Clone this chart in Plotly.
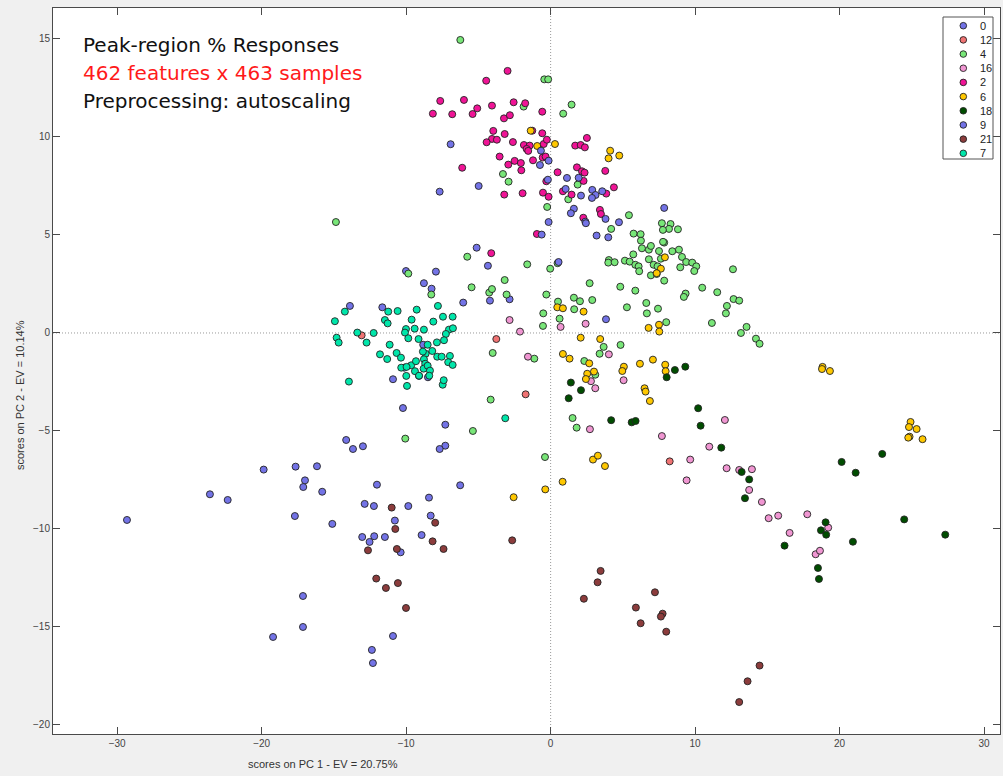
import plotly.graph_objects as go

# PCA scores (PC1, PC2) per sample class
class_labels = ["0", "12", "4", "16", "2", "6", "18", "9", "21", "7"]
class_colors = ["#7373e6", "#f07373", "#78e678", "#f096d2", "#f01496",
                "#ffc800", "#004d00", "#7373e6", "#8c3c3c", "#00e6aa"]

pc1_c0 = [-5.12, -4.34, -10.01, -7.94, -8.77, -8.24, -2.84, -4.20, -6.05, -13.89, -11.65,
          -8.82, -10.13, -9.11, -8.49, -10.91, -10.22, -7.29, -14.15, -13.68, -12.99, -7.29,
          -7.68, -12.02, -6.26, -8.42, -12.87, -12.23, -9.85, -15.11, -10.78, -8.30, -13.04,
          -12.21, -11.47, -12.53, -8.93, -10.38, -10.91, -12.37, -12.30, -17.14, -17.14,
          -19.21, -19.86, -17.65, -16.17, -17.00, -17.12, -15.81, -23.58, -22.35, -17.70, -29.32]
pc2_c0 = [4.35, 3.43, 3.16, 3.13, 2.54, 2.26, 1.72, 1.65, 1.55, 1.38, 1.31,
          -0.60, -1.77, -2.19, -2.26, -2.36, -3.83, -4.68, -5.46, -5.92, -5.78, -5.75,
          -5.92, -7.74, -7.77, -8.40, -8.72, -8.83, -8.83, -9.74, -9.57, -9.32, -10.41,
          -10.37, -10.41, -10.66, -10.31, -11.19, -15.46, -16.17, -16.84, -13.42, -15.00,
          -15.51, -6.97, -6.82, -6.80, -7.52, -7.86, -8.10, -8.23, -8.52, -9.34, -9.54]

pc1_c12 = [-13.08, -3.76, -1.73, 8.24]
pc2_c12 = [-0.12, -0.31, -3.13, -6.55]

pc1_c4 = [-6.25, -0.44, -0.17, -1.87, -3.30, -2.91, -0.24, -14.86, 1.45, 0.87, 1.87, 1.22,
          5.42, 7.70, 8.30, 8.19, 8.81, 7.77, 4.19, 5.74, 6.23, 6.25, 5.72, 6.32, 6.80, 6.94,
          7.50, 7.86, 7.78, 8.42, 8.88, 9.09, 9.38, 9.80, 10.08, 9.94, 7.63, 4.03, 3.99, 4.43,
          5.14, 5.47, 5.86, 6.09, 6.13, 6.80, 7.13, 7.40, 6.94, 7.34, 7.86, 8.97, 12.62, 0.48,
          -0.03, 2.70, 4.82, 5.86, 10.49, 11.53, 9.34, 9.22, 12.66, 13.05, 12.20, 12.13, 11.16,
          13.56, 13.17, 14.21, 14.46, -0.30, -0.51, -0.53, 0.51, 1.61, 2.03, 2.88, 1.63, 0.62,
          5.28, 6.62, 7.43, 6.66, 8.00, 3.67, 3.39, 4.84, 2.33, 3.09, 1.52, 1.80, -0.39, -5.77,
          -1.62, -9.85, -8.26, -5.47, -3.18, -4.25, -4.06, -3.05, -4.01, -1.13, -4.15, -5.38,
          -10.06]
pc2_c4 = [14.95, 12.94, 12.94, 11.55, 8.11, 7.72, 6.43, 5.66, 11.65, 11.19, 7.57, 6.82,
          6.01, 5.60, 5.56, 5.31, 5.29, 5.26, 5.31, 5.07, 5.04, 4.71, 4.01, 4.32, 4.25, 4.44,
          4.18, 4.61, 4.65, 4.17, 4.25, 3.88, 3.62, 3.59, 3.40, 3.16, 3.79, 3.72, 3.59, 3.61,
          3.69, 3.64, 3.48, 3.40, 3.15, 3.76, 3.48, 3.40, 2.94, 3.01, 2.67, 3.35, 3.25, 3.56,
          3.28, 2.54, 2.36, 2.16, 2.31, 2.08, 2.01, 1.84, 1.73, 1.65, 1.38, 1.00, 0.51,
          0.31, 0.00, -0.29, -0.55, 1.96, 1.00, 0.36, 1.60, 1.80, 1.62, 1.68, 1.21, 0.73,
          1.31, 1.53, 1.24, 1.00, 0.55, -0.71, -1.06, -0.61, -1.43, -2.13, -4.34, -4.83, -6.33, 3.89,
          3.50, 3.03, 1.96, 2.33, 2.70, 2.06, 2.24, 1.96, -1.02, -1.31, -3.40, -5.00,
          -5.39]

pc1_c16 = [0.69, 2.42, 4.03, 2.79, 3.09, 5.05, 2.72, 12.06, 7.70, 10.98, 9.66, 12.18, 13.05,
           13.93, 13.74, 14.62, 15.09, 15.75, 9.41, 17.76, 16.54, 19.21, 18.34, 18.64, -2.84,
           -2.12, -1.57]
pc2_c16 = [0.31, 0.47, -1.09, -2.46, -2.82, -2.41, -4.91, -4.44, -5.26, -5.80, -6.46, -6.90, -6.99,
           -6.95, -8.01, -8.62, -9.45, -9.32, -7.52, -9.25, -10.20, -9.93, -11.29, -11.11, 0.66,
           0.07, -1.21]

pc1_c2 = [-2.98, -4.46, -7.64, -6.00, -8.15, -6.81, -5.40, -5.08, -4.06, -2.56, -1.76, -0.58,
          -3.23, -2.82, -3.97, -3.18, -1.27, -0.58, -4.06, -3.72, -4.43, -2.61, -1.85, -1.45,
          -1.66, -1.55, -0.48, -0.26, -3.53, -2.49, -2.93, -2.06, -2.03, -1.22, -0.55, -0.35,
          0.48, -6.12, -0.30, -3.21, -1.94, -0.53, -0.14, 1.70, 2.08, 2.37, 2.51, 3.78, 1.82,
          2.17, 2.35, 2.28, 4.38, 3.85, 0.85, 1.45, 3.41, 3.48, 2.26, -0.95, -4.11]
pc2_c2 = [13.37, 12.87, 11.84, 11.89, 11.19, 11.16, 11.17, 11.46, 11.60, 11.77, 11.72, 11.29,
          10.95, 11.11, 10.31, 10.15, 10.32, 10.19, 9.90, 9.86, 9.73, 9.74, 9.59, 9.56,
          9.39, 9.29, 9.64, 9.86, 9.00, 8.78, 8.59, 8.67, 8.30, 8.81, 8.95, 9.00,
          8.20, 8.43, 7.74, 7.06, 7.13, 7.16, 6.95, 9.56, 9.59, 9.47, 9.95, 8.27, 8.45,
          8.25, 8.18, 7.76, 7.43, 7.11, 7.23, 7.06, 6.28, 6.07, 5.88, 5.05, 4.07]

pc1_c6 = [-1.38, -0.93, 0.30, 4.12, 4.01, 4.75, 7.91, 7.63, 7.34, 0.46, 0.85, 2.28, 6.78, 7.50,
          7.52, 2.08, 3.43, 0.85, 1.31, 2.67, 3.00, 2.53, 2.44, 5.07, 4.96, 6.18, 7.08, 7.93,
          7.96, 6.50, 6.57, 6.87, 2.93, 3.27, 3.76, 0.83, -0.37, -2.56, 18.82, 18.78, 19.33,
          24.91, 24.80, 25.33, 24.84, 24.75, 25.74]
pc2_c6 = [10.32, 9.54, 9.64, 9.30, 8.91, 9.05, 3.86, 3.28, 3.05, 1.31, 1.26, 1.09, 0.26, 0.42,
          0.07, -0.24, -0.31, -1.07, -1.31, -1.55, -1.97, -2.08, -2.35, -1.72, -1.94, -1.57, -1.36, -1.62,
          -1.95, -2.82, -2.99, -3.47, -6.46, -6.26, -6.79, -7.59, -7.98, -8.38, -1.73, -1.84, -1.94,
          -4.54, -4.80, -4.90, -5.29, -5.34, -5.42]

pc1_c18 = [1.40, 2.10, 1.25, 8.03, 8.60, 9.32, 10.21, 4.19, 5.61, 5.88, 10.38, 11.81, 13.22,
           13.74, 13.45, 22.95, 20.14, 21.11, 19.03, 18.71, 19.07, 16.19, 20.92, 24.47, 27.31,
           18.50, 18.57]
pc2_c18 = [-2.53, -2.92, -3.33, -2.26, -1.89, -1.72, -3.84, -4.45, -4.56, -4.49, -4.73, -5.85, -7.09,
           -7.47, -8.43, -6.17, -6.58, -7.13, -9.66, -10.07, -10.29, -10.85, -10.65, -9.51, -10.29,
           -11.99, -12.55]

pc1_c9 = [-6.92, -0.67, -0.14, -0.74, -4.98, -7.68, -0.19, -0.14, 1.94, 1.13, 1.04, 2.88, 3.11,
          2.86, 3.57, 2.10, 1.61, 1.40, 2.40, 2.44, 3.80, 4.73, 7.86, -0.62, 3.18, 3.99, 0.55, 3.83]
pc2_c9 = [9.63, 9.30, 8.79, 8.57, 7.50, 7.21, 7.82, 5.66, 7.92, 7.91, 7.35, 7.30, 7.04,
          6.89, 7.23, 7.01, 6.34, 6.11, 5.68, 5.60, 5.82, 5.65, 6.38, 5.02, 4.97, 4.88, 3.62, 0.70]

pc1_c21 = [-11.00, -10.75, -7.99, -12.64, -8.17, -7.41, -10.64, -2.66, -12.07, -11.40, -10.57,
           -10.01, 3.46, 3.25, 2.30, 7.22, 5.90, 6.23, 7.75, 7.63, 8.00, 14.46, 13.63, 13.05]
pc2_c21 = [-8.91, -10.00, -9.68, -11.09, -10.63, -11.02, -11.02, -10.58, -12.53, -13.01, -12.76,
           -14.03, -12.14, -12.72, -13.56, -13.23, -14.01, -14.81, -14.32, -14.47, -15.24, -16.97, -17.77, -18.83]

pc1_c7 = [-14.24, -14.93, -14.81, -14.67, -13.38, -12.74, -12.25, -11.24, -10.59, -11.47, -11.28,
          -9.27, -9.62, -7.80, -8.12, -7.45, -6.78, -10.01, -10.08, -9.41, -8.77, -7.04, -6.76,
          -7.25, -7.38, -7.87, -9.85, -9.14, -11.14, -11.81, -10.66, -10.36, -11.31, -8.51,
          -8.65, -8.84, -8.19, -7.85, -7.54, -6.97, -8.77, -8.68, -9.65, -9.32, -10.34, -9.97,
          -8.79, -8.51, -8.35, -8.40, -9.39, -9.11, -9.99, -9.94, -7.47, -7.40, -7.09, -6.78,
          -13.96, -3.14]
pc2_c7 = [1.09, 0.60, -0.24, -0.49, 0.02, -0.49, 0.00, 1.09, 1.12, 0.66, 0.49,
          1.19, 0.68, 1.38, 0.58, 0.83, 0.83, 0.20, 0.02, 0.22, 0.17, 0.17, 0.24,
          -0.05, -0.37, -0.48, -0.27, -0.31, -0.60, -1.09, -1.02, -1.26, -1.33, -0.60,
          -1.06, -0.95, -0.92, -1.21, -1.21, -1.17, -1.34, -1.57, -1.65, -1.44, -1.77, -1.73,
          -1.82, -1.67, -1.92, -2.18, -1.95, -2.18, -2.19, -2.70, -2.64, -2.41, -1.49, -1.63,
          -2.48, -4.35]

pc1_by_class = [pc1_c0, pc1_c12, pc1_c4, pc1_c16, pc1_c2, pc1_c6, pc1_c18, pc1_c9, pc1_c21, pc1_c7]
pc2_by_class = [pc2_c0, pc2_c12, pc2_c4, pc2_c16, pc2_c2, pc2_c6, pc2_c18, pc2_c9, pc2_c21, pc2_c7]

x_ticks = [-30, -20, -10, 0, 10, 20, 30]
y_ticks = [-20, -15, -10, -5, 0, 5, 10, 15]

fig = go.Figure()
for label, color, xs, ys in zip(class_labels, class_colors, pc1_by_class, pc2_by_class):
    fig.add_trace(go.Scatter(
        x=xs, y=ys, mode="markers", name=label, showlegend=False,
        marker=dict(size=7, color=color, line=dict(width=1, color="rgba(35,35,35,0.9)")),
    ))

# dotted reference lines through the origin
fig.add_shape(type="line", xref="x", yref="paper", x0=0, x1=0, y0=0, y1=1,
              line=dict(color="#9a9a9a", width=1, dash="1px,2px"), layer="below")
fig.add_shape(type="line", xref="paper", yref="y", x0=0, x1=1, y0=0, y1=0,
              line=dict(color="#9a9a9a", width=1, dash="1px,2px"), layer="below")

# compact legend box
W, H = 1003, 776
ml, mr, mt, mb = 53, 3, 8, 42
pw, ph = W - ml - mr, H - mt - mb


def px_x(p):
    return (p - ml) / pw


def px_y(p):
    return 1 - (p - mt) / ph


fig.add_shape(type="rect", xref="paper", yref="paper",
              x0=px_x(943), x1=px_x(993), y0=px_y(17), y1=px_y(159),
              line=dict(color="#555555", width=1), fillcolor="white")
for i, (label, color) in enumerate(zip(class_labels, class_colors)):
    yc = px_y(25.7 + 14.18 * i)
    fig.add_shape(type="circle", xref="paper", yref="paper",
                  xsizemode="pixel", ysizemode="pixel",
                  xanchor=px_x(963.3), yanchor=yc, x0=-3.3, x1=3.3, y0=-3.3, y1=3.3,
                  fillcolor=color, line=dict(color="rgba(35,35,35,0.9)", width=1))
    fig.add_annotation(xref="paper", yref="paper", x=px_x(978), y=yc,
                       text=label, showarrow=False, xanchor="left", yanchor="middle",
                       font=dict(family="Liberation Sans, Arial", size=11, color="#222222"))

# header text block
header = [("Peak-region % Responses", "#111111"),
          ("462 features x 463 samples", "#ff1a1a"),
          ("Preprocessing: autoscaling", "#111111")]
for i, (txt, col) in enumerate(header):
    fig.add_annotation(xref="paper", yref="paper", x=px_x(81), y=px_y(45 + 28 * i),
                       text=txt, showarrow=False, xanchor="left", yanchor="middle",
                       font=dict(family="DejaVu Sans", size=20, color=col))

# axis titles
fig.add_annotation(xref="paper", yref="paper", x=px_x(323), y=px_y(764),
                   text="scores on PC 1 - EV = 20.75%", showarrow=False,
                   xanchor="center", yanchor="middle",
                   font=dict(family="Liberation Sans, Arial", size=11, color="#333333"))
fig.add_annotation(xref="paper", yref="paper", x=px_x(20), y=px_y(395),
                   text="scores on PC 2 - EV = 10.14%", showarrow=False, textangle=-90,
                   xanchor="center", yanchor="middle",
                   font=dict(family="Liberation Sans, Arial", size=11, color="#333333"))

axis_common = dict(showgrid=False, zeroline=False, showline=True, mirror="ticks",
                   linecolor="#4a4a4a", linewidth=1, ticks="inside", ticklen=7,
                   tickcolor="#4a4a4a", tickfont=dict(family="Liberation Sans, Arial",
                                                       size=10, color="#444444"))
fig.update_xaxes(range=[-34.44, 31.1], tickvals=x_ticks, **axis_common)
fig.update_yaxes(range=[-20.46, 16.58], tickvals=y_ticks, **axis_common)

fig.update_layout(width=W, height=H, margin=dict(l=ml, r=mr, t=mt, b=mb),
                  paper_bgcolor="#f0f0f0", plot_bgcolor="white", showlegend=False)

fig.write_html("out.html")
